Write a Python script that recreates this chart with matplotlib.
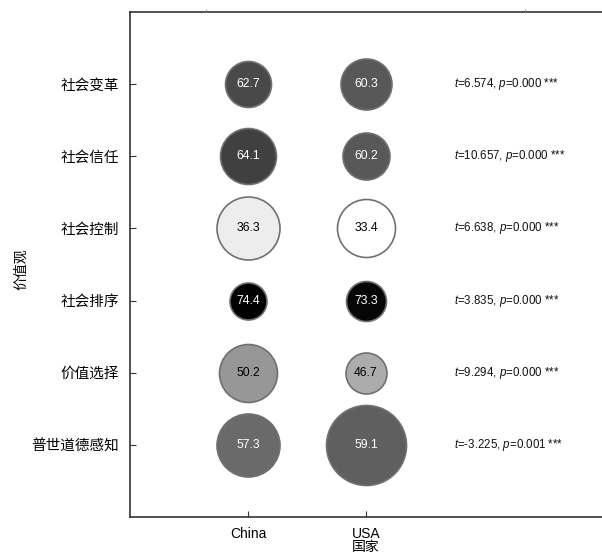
import numpy as np
import matplotlib
matplotlib.use('Agg')
import matplotlib.pyplot as plt
from matplotlib.colors import LinearSegmentedColormap, Normalize

plt.rcParams['font.family'] = ['Liberation Sans', 'Noto Sans CJK SC', 'DejaVu Sans']
plt.rcParams['mathtext.fontset'] = 'custom'
plt.rcParams['mathtext.rm'] = 'Liberation Sans'
plt.rcParams['mathtext.it'] = 'Liberation Sans:italic'

values_cn = ['社会变革', '社会信任', '社会控制', '社会排序', '价值选择', '普世道德感知']
countries = ['China', 'USA']
china = [62.7, 64.1, 36.3, 74.4, 50.2, 57.3]
usa = [60.3, 60.2, 33.4, 73.3, 46.7, 59.1]
# bubble diameters (px)
china_size = [46, 56, 63, 37, 58, 63]
usa_size = [51, 47, 58, 40, 41, 80]
t_vals = ['6.574', '10.657', '6.638', '3.835', '9.294', '-3.225']
p_vals = ['0.000', '0.000', '0.000', '0.000', '0.000', '0.001']
stars = ['***'] * 6

fig = plt.figure(figsize=(6.02, 5.57), dpi=100)
ax = fig.add_axes([130/602, 40/557, 1 - 130/602, (517-12)/557])

cmap = LinearSegmentedColormap.from_list('g', ['#ffffff', '#000000'])
allv = china + usa
norm = Normalize(vmin=min(allv), vmax=max(allv))

for xi, (vals, sizes) in enumerate([(china, china_size), (usa, usa_size)]):
    for yi, (v, d) in enumerate(zip(vals, sizes)):
        ax.scatter(xi, yi, s=(d*0.72)**2, color=cmap(norm(v)),
                   edgecolors='#707070', linewidths=1.2, zorder=3)
        tc = 'white' if norm(v) > 0.5 else 'black'
        ax.text(xi, yi, f'{v:.1f}', ha='center', va='center',
                fontsize=8.8, color=tc, zorder=4)

for yi in range(len(values_cn)):
    ax.text(1.75, yi, f'$t$={t_vals[yi]}, $p$={p_vals[yi]} {stars[yi]}',
            ha='left', va='center', fontsize=8.3, color='#111111')

ax.set_xlim(-1, 3)
ax.set_ylim(6, -1)
ax.set_xticks(range(len(countries)))
ax.set_xticklabels(countries, fontsize=10)
ax.set_yticks(range(len(values_cn)))
ax.set_yticklabels(values_cn, fontsize=10.5, family=['Noto Sans CJK SC'])
ax.set_xlabel('国家', fontsize=10, family=['Noto Sans CJK SC'])
ax.set_ylabel('价值观', fontsize=10, family=['Noto Sans CJK SC'])
ax.xaxis.set_label_coords(0.5, -0.046)
ax.yaxis.set_label_coords(-0.215, 0.49)
ax.tick_params(axis='y', direction='in', length=4, color='#333333', pad=8)
ax.tick_params(axis='x', direction='in', length=4, color='#333333', pad=7)
for s in ['left', 'top', 'bottom']:
    ax.spines[s].set_color('#333333')
    ax.spines[s].set_linewidth(1.2)
ax.spines['right'].set_visible(False)

top = ax.twiny()
top.set_xlim(ax.get_xlim())
top.set_xticks([-0.36, 2.35])
top.set_xticklabels([])
top.tick_params(axis='x', direction='out', length=2, color='#888888', width=0.6)
for s in ['left', 'top', 'bottom', 'right']:
    top.spines[s].set_visible(False)

fig.savefig('out.png', dpi=100)
